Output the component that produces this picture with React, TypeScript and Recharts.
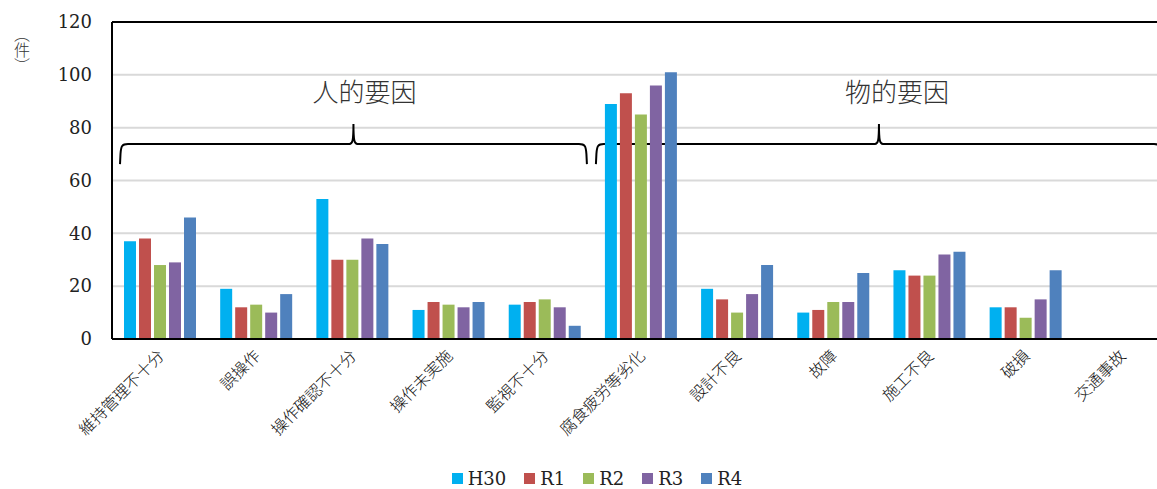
import React from "react"
import { BarChart, Bar, XAxis, YAxis, CartesianGrid, ReferenceLine, ReferenceArea, Legend } from "recharts"

const categories = [
  "維持管理不十分",
  "誤操作",
  "操作確認不十分",
  "操作未実施",
  "監視不十分",
  "腐食疲労等劣化",
  "設計不良",
  "故障",
  "施工不良",
  "破損",
  "交通事故",
]
const h30 = [37, 19, 53, 11, 13, 89, 19, 10, 26, 12, 0]
const r1 = [38, 12, 30, 14, 14, 93, 15, 11, 24, 12, 0]
const r2 = [28, 13, 30, 13, 15, 85, 10, 14, 24, 8, 0]
const r3 = [29, 10, 38, 12, 12, 96, 17, 14, 32, 15, 0]
const r4 = [46, 17, 36, 14, 5, 101, 28, 25, 33, 26, 0]
const years = ["H30", "R1", "R2", "R3", "R4"]
const colors = ["#00B0F0", "#C0504D", "#9BBB59", "#8064A2", "#4F81BD"]
const yTicks = [0, 20, 40, 60, 80, 100, 120]
const groups = [
  { label: "人的要因", from: "維持管理不十分", to: "監視不十分", dx: 11, padL: 8, padR: 6 },
  { label: "物的要因", from: "腐食疲労等劣化", to: "交通事故", dx: 18, padL: 3, padR: 8 },
]

const series = [h30, r1, r2, r3, r4]
const data = categories.map((name, i) => {
  const row: Record<string, string | number> = { name }
  years.forEach((y, j) => {
    row[y] = series[j][i]
  })
  return row
})

const serif = "DejaVu Serif, Liberation Serif, serif"
const jp = "Noto Sans CJK JP, sans-serif"

function CategoryTick({ x, y, payload }: any) {
  return (
    <g transform={`translate(${x + 1},${y + 14})`}>
      <text
        textAnchor="end"
        transform="rotate(-45)"
        fontSize={16}
        fontWeight={300}
        fontFamily={jp}
        fill="#111"
        dy="0.35em"
      >
        {payload.value}
      </text>
    </g>
  )
}

function ValueTick({ x, y, payload }: any) {
  return (
    <text x={x} y={y} dy="0.35em" textAnchor="end" fontSize={18} fontFamily={serif} fill="#222">
      {payload.value}
    </text>
  )
}

function makeBrace(label: string, dx: number, padL: number, padR: number) {
  return (props: any) => {
    const { x, y, width, height } = props
    const x0 = x + padL
    const x1 = x + width - padR
    const yb = y + height
    const yh = y + height * 0.5
    const tip = (x0 + x1) / 2
    const d = [
      `M ${x0} ${yb}`,
      `L ${x0 + 0.5} ${yh + 10}`,
      `C ${x0 + 1} ${yh + 2} ${x0 + 2} ${yh} ${x0 + 8} ${yh}`,
      `L ${tip - 4} ${yh}`,
      `C ${tip - 1} ${yh} ${tip} ${yh - 3} ${tip} ${y}`,
      `C ${tip} ${yh - 3} ${tip + 1} ${yh} ${tip + 4} ${yh}`,
      `L ${x1 - 8} ${yh}`,
      `C ${x1 - 2} ${yh} ${x1 - 1} ${yh + 2} ${x1 - 0.5} ${yh + 10}`,
      `L ${x1} ${yb}`,
    ].join(" ")
    return (
      <g>
        <path d={d} fill="none" stroke="#000" strokeWidth={2} />
        <text
          x={tip + dx}
          y={y - 22}
          textAnchor="middle"
          fontSize={26}
          fontWeight={300}
          fontFamily={jp}
          fill="#333"
        >
          {label}
        </text>
      </g>
    )
  }
}

function LegendContent() {
  return (
    <div
      style={{
        display: "flex",
        justifyContent: "center",
        alignItems: "center",
        height: 22,
        fontFamily: serif,
        fontSize: 18,
        color: "#222",
      }}
    >
      {years.map((y, i) => (
        <div key={y} style={{ display: "flex", alignItems: "center", marginRight: i < years.length - 1 ? 18 : 0 }}>
          <span style={{ width: 11, height: 11, background: colors[i], marginRight: 5, display: "inline-block" }} />
          <span>{y}</span>
        </div>
      ))}
    </div>
  )
}

export default function App() {
  return (
    <div style={{ position: "absolute", left: 0, top: 0, width: 1157, height: 489, overflow: "hidden", background: "#fff" }}>
      <div
        style={{
          position: "absolute",
          left: 10,
          top: 26,
          writingMode: "vertical-rl",
          fontFamily: jp,
          fontSize: 16,
          fontWeight: 300,
          color: "#333",
        }}
      >
        （件）
      </div>
      <BarChart
        width={1170}
        height={489}
        data={data}
        margin={{ top: 22, right: 0, bottom: 0, left: 0 }}
        barCategoryGap={12}
        barGap={3}
      >
        <CartesianGrid vertical={false} stroke="#d9d9d9" strokeWidth={2} />
        <XAxis
          dataKey="name"
          interval={0}
          height={128}
          tickLine={false}
          tickSize={0}
          tickMargin={0}
          axisLine={{ stroke: "#000", strokeWidth: 2 }}
          tick={<CategoryTick />}
        />
        <YAxis
          width={112}
          domain={[0, 120]}
          ticks={yTicks}
          tickLine={false}
          tickSize={0}
          tickMargin={20}
          axisLine={{ stroke: "#000", strokeWidth: 2 }}
          tick={<ValueTick />}
        />
        <ReferenceLine y={120} stroke="#000" strokeWidth={2} />
        {years.map((y, i) => (
          <Bar key={y} dataKey={y} fill={colors[i]} isAnimationActive={false} />
        ))}
        {groups.map((g) => (
          <ReferenceArea
            key={g.label}
            x1={g.from}
            x2={g.to}
            y1={66.2}
            y2={81.4}
            ifOverflow="visible"
            shape={makeBrace(g.label, g.dx, g.padL, g.padR)}
          />
        ))}
        <Legend
          verticalAlign="bottom"
          height={22}
          content={<LegendContent />}
          wrapperStyle={{ left: 0, width: 1194, bottom: 0 }}
        />
      </BarChart>
    </div>
  )
}
